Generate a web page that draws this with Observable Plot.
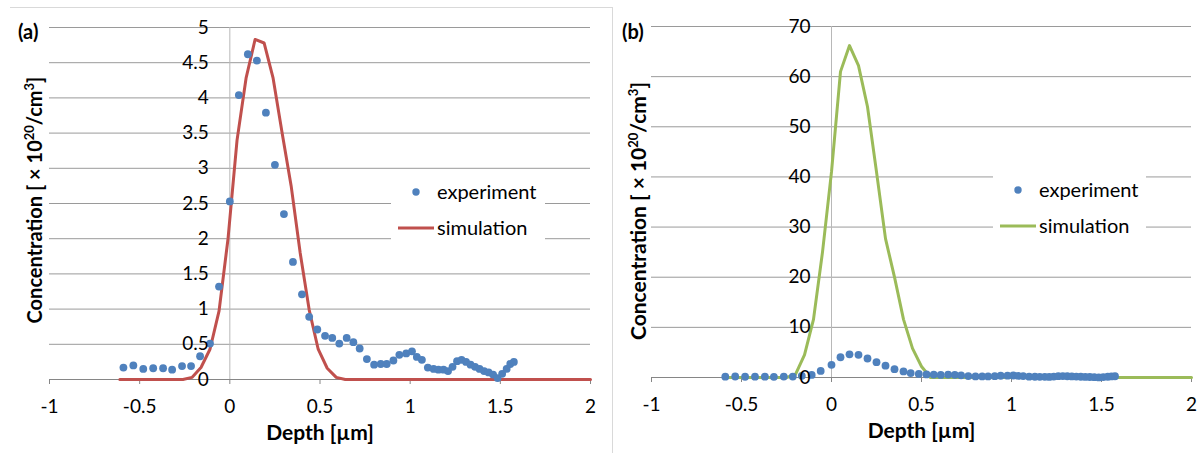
<!DOCTYPE html>
<html><head><meta charset="utf-8">
<script src="https://cdn.jsdelivr.net/npm/d3@7"></script>
<script src="https://cdn.jsdelivr.net/npm/@observablehq/plot@0.6"></script>
<style>
body{margin:0;background:#fff;font-family:Lato,"Open Sans",sans-serif;color:#000}
#wrap{position:relative;width:1200px;height:453px;overflow:hidden;background:#fff}
.panel{position:absolute;top:0}
.ytitle{position:absolute;font-weight:bold;font-size:20px;white-space:nowrap;transform:translate(-50%,-50%) rotate(-90deg);line-height:1}
.ytitle sup{font-size:13px;vertical-align:0;position:relative;top:-8px}
.tag{position:absolute;font-weight:bold;font-size:20px;line-height:1}
.legend{position:absolute;background:#fff;font-size:20px}
.legend span{position:absolute;line-height:1;transform:translateY(-55%);white-space:nowrap}
.border{position:absolute;background:#d9d9d9}
</style></head><body><div id="wrap"></div>
<script>
// Experiment (same measured profile in both panels)
const depth = [-0.59, -0.535, -0.48, -0.425, -0.37, -0.32, -0.265, -0.215, -0.165, -0.11, -0.06, 0.0, 0.05, 0.10, 0.15, 0.20, 0.25, 0.30, 0.35, 0.40, 0.44, 0.485, 0.528, 0.568, 0.607, 0.648, 0.685, 0.72, 0.76, 0.80, 0.837, 0.87, 0.907, 0.94, 0.978, 1.01, 1.037, 1.065, 1.098, 1.13, 1.157, 1.185, 1.21, 1.235, 1.26, 1.285, 1.31, 1.335, 1.36, 1.385, 1.41, 1.435, 1.46, 1.485, 1.51, 1.535, 1.555, 1.575];
const experiment = [0.17, 0.20, 0.15, 0.16, 0.16, 0.14, 0.19, 0.19, 0.33, 0.51, 1.32, 2.53, 4.04, 4.62, 4.53, 3.79, 3.05, 2.35, 1.67, 1.21, 0.89, 0.71, 0.62, 0.59, 0.51, 0.59, 0.53, 0.44, 0.29, 0.21, 0.22, 0.22, 0.27, 0.35, 0.37, 0.40, 0.32, 0.28, 0.17, 0.15, 0.14, 0.14, 0.12, 0.18, 0.26, 0.28, 0.25, 0.21, 0.18, 0.15, 0.12, 0.10, 0.07, 0.02, 0.08, 0.15, 0.22, 0.25];

// Simulation (a)
const simDepthA = [-0.61, -0.26, -0.21, -0.16, -0.11, -0.06, -0.01, 0.04, 0.09, 0.14, 0.19, 0.24, 0.29, 0.34, 0.39, 0.44, 0.49, 0.54, 0.59, 0.64, 2.0];
const simA = [0, 0, 0.03, 0.17, 0.43, 0.97, 2.0, 3.4, 4.28, 4.83, 4.78, 4.28, 3.5, 2.75, 1.8, 0.99, 0.43, 0.16, 0.03, 0, 0];

// Simulation (b)
const simDepthB = [-0.6, -0.25, -0.2, -0.15, -0.1, -0.05, 0, 0.05, 0.1, 0.15, 0.2, 0.25, 0.3, 0.35, 0.4, 0.45, 0.5, 0.55, 2.0];
const simB = [0, 0, 0.6, 4.5, 11.6, 25, 41, 61, 66.2, 62.2, 54, 41, 27.7, 20, 11.6, 5.8, 2.2, 0, 0];

// Axes
const xTicks = [-1, -0.5, 0, 0.5, 1, 1.5, 2];
const xTickLabels = ["-1", "-0.5", "0", "0.5", "1", "1.5", "2"];
const yTicksA = [0, 0.5, 1, 1.5, 2, 2.5, 3, 3.5, 4, 4.5, 5];
const yTickLabelsA = ["0", "0.5", "1", "1.5", "2", "2.5", "3", "3.5", "4", "4.5", "5"];
const yTicksB = [0, 10, 20, 30, 40, 50, 60, 70];
const yTickLabelsB = ["0", "10", "20", "30", "40", "50", "60", "70"];
const yAxisCross = 0;
const xLabel = "Depth [µm]";
const seriesNames = ["experiment", "simulation"];

const expColor = "#4F81BD";
const colorA = "#C0504D";
const colorB = "#9BBB59";

function panel({simX, simY, color, yTicks, yLabels, m}) {
  const expData = depth.map((d, i) => ({d, c: experiment[i]}));
  const simData = simX.map((d, i) => ({d, c: simY[i]}));
  return Plot.plot({
    width: 600, height: 453,
    marginLeft: m[0], marginRight: m[1], marginTop: m[2], marginBottom: m[3],
    style: {fontFamily: "Lato, 'Open Sans', sans-serif", fontSize: "19px", color: "#000", background: "transparent", overflow: "visible"},
    x: {domain: [xTicks[0], xTicks[xTicks.length - 1]]},
    y: {domain: [yTicks[0], yTicks[yTicks.length - 1]], axis: null},
    marks: [
      Plot.gridY({ticks: yTicks.slice(1), stroke: "#9a9a9a", strokeOpacity: 1}),
      Plot.ruleX([yAxisCross], {stroke: "#b8b8b8"}),
      Plot.ruleY([yTicks[0]], {stroke: "#868686"}),
      Plot.axisX({ticks: xTicks, tickSize: 5, tickPadding: 15, stroke: "#868686",
        tickFormat: d => xTickLabels[xTicks.indexOf(d)], label: null, fontSize: 19}),
      Plot.line(simData, {x: "d", y: "c", stroke: color, strokeWidth: 3}),
      Plot.dot(expData, {x: "d", y: "c", r: 3.9, fill: expColor}),
      Plot.text(yTicks, {x: () => yAxisCross, y: d => d, text: (d, i) => yLabels[i],
        textAnchor: "end", dx: -21, fontSize: 19}),
      Plot.text([xLabel], {frameAnchor: "bottom", dy: 60, fontWeight: "bold", fontSize: 21})
    ]
  });
}

const wrap = document.getElementById("wrap");

function place(el, left) {
  el.classList.add("panel");
  el.style.left = left + "px";
  wrap.appendChild(el);
}

place(panel({simX: simDepthA, simY: simA, color: colorA, yTicks: yTicksA, yLabels: yTickLabelsA, m: [49, 10, 27, 74]}), 0);
place(panel({simX: simDepthB, simY: simB, color: colorB, yTicks: yTicksB, yLabels: yTickLabelsB, m: [51, 9, 26, 76]}), 600);

function addHTML(html) { wrap.insertAdjacentHTML("beforeend", html); }

// frame borders
addHTML(`<div class="border" style="left:10px;top:7px;width:603px;height:1px"></div>`);
addHTML(`<div class="border" style="left:612px;top:7px;width:1px;height:446px"></div>`);

// panel tags
addHTML(`<div class="tag" style="left:18px;top:21px">(a)</div>`);
addHTML(`<div class="tag" style="left:622px;top:21px">(b)</div>`);

// y titles
const yTitle = `Concentration [ × 10<sup>20</sup>/cm<sup>3</sup>]`;
addHTML(`<div class="ytitle" style="left:34px;top:200px">${yTitle}</div>`);
addHTML(`<div class="ytitle" style="left:637px;top:211px;font-size:21px">${yTitle}</div>`);

// legends
function legend(left, top, w, h, dotY, lineY, color) {
  addHTML(`<div class="legend" style="left:${left}px;top:${top}px;width:${w}px;height:${h}px">
    <svg width="${w}" height="${h}" style="position:absolute;left:0;top:0">
      <circle cx="25" cy="${dotY}" r="3.7" fill="${expColor}"/>
      <line x1="7" x2="43" y1="${lineY}" y2="${lineY}" stroke="${color}" stroke-width="3"/>
    </svg>
    <span style="left:46px;top:${dotY}px">${seriesNames[0]}</span>
    <span style="left:46px;top:${lineY}px">${seriesNames[1]}</span>
  </div>`);
}
legend(391, 172, 154, 78, 20, 56, colorA);
legend(993, 150, 153, 105, 40, 76, colorB);
</script></body></html>
